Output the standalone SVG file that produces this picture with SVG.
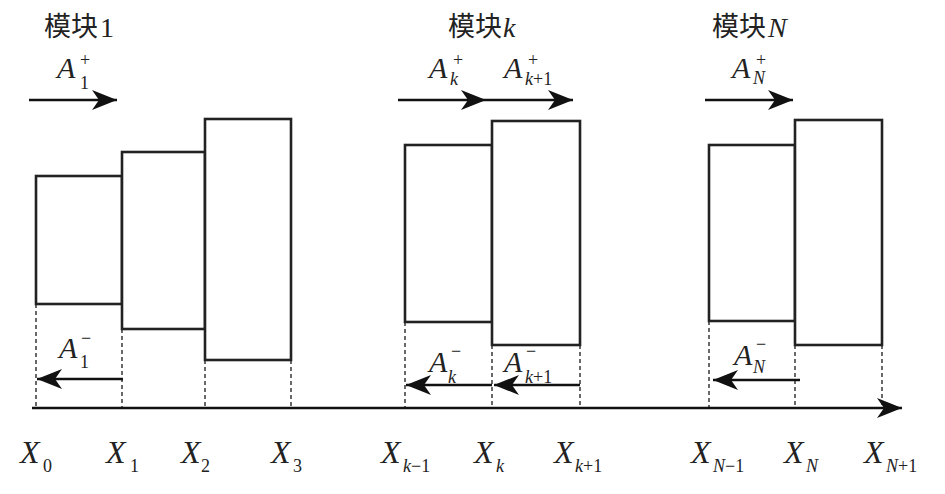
<svg xmlns="http://www.w3.org/2000/svg" width="945" height="494" viewBox="0 0 945 494">
<style>
.blk{fill:#fff;stroke:#222;stroke-width:2.6}
.dash{stroke:#444;stroke-width:1.6;stroke-dasharray:4 3;fill:none}
.arr{stroke:#111;stroke-width:2.6;fill:none;marker-end:url(#ah)}
.ax{stroke:#111;stroke-width:2.6;fill:none;marker-end:url(#ah)}
text{fill:#222}
.cn{font-size:28px}
.A{font-size:30px;font-style:italic}
.X{font-size:32px;font-style:italic}
.s{font-size:18px}
.si{font-size:18px;font-style:italic}
</style>
<defs>
<marker id="ah" markerUnits="userSpaceOnUse" markerWidth="26" markerHeight="22" refX="25" refY="10" orient="auto">
<path d="M0,0 L25,10 L0,20 L7,10 z" fill="#111"/>
</marker>
</defs>
<rect width="945" height="494" fill="#fff"/>

<g id="connectors">
<line class="dash" x1="36" y1="304" x2="36" y2="408"/>
<line class="dash" x1="122" y1="329" x2="122" y2="408"/>
<line class="dash" x1="205" y1="360" x2="205" y2="408"/>
<line class="dash" x1="291" y1="360" x2="291" y2="408"/>
<line class="dash" x1="405" y1="322" x2="405" y2="408"/>
<line class="dash" x1="492" y1="345" x2="492" y2="408"/>
<line class="dash" x1="580" y1="345" x2="580" y2="408"/>
<line class="dash" x1="709" y1="321" x2="709" y2="408"/>
<line class="dash" x1="795" y1="345" x2="795" y2="408"/>
<line class="dash" x1="882" y1="345" x2="882" y2="408"/>
<line class="ax" x1="32" y1="408" x2="902" y2="408"/>
<line class="arr" x1="29" y1="100" x2="117" y2="100"/>
<line class="arr" x1="398" y1="100" x2="486" y2="100"/>
<line class="arr" x1="486" y1="100" x2="573" y2="100"/>
<line class="arr" x1="705" y1="100" x2="793" y2="100"/>
<line class="arr" x1="123" y1="379" x2="37" y2="379"/>
<line class="arr" x1="492" y1="385" x2="406" y2="385"/>
<line class="arr" x1="580" y1="385" x2="494" y2="385"/>
<line class="arr" x1="800" y1="380" x2="713" y2="380"/>
</g>

<g id="block1"><rect class="blk" x="36" y="176" width="86" height="128"/></g>
<g id="block2"><rect class="blk" x="122" y="152" width="83" height="177"/></g>
<g id="block3"><rect class="blk" x="205" y="119" width="86" height="241"/></g>
<g id="blockk"><rect class="blk" x="405" y="145" width="87" height="177"/></g>
<g id="blockk1"><rect class="blk" x="492" y="121" width="88" height="224"/></g>
<g id="blockN"><rect class="blk" x="709" y="145" width="86" height="176"/></g>
<g id="blockN1"><rect class="blk" x="795" y="120" width="87" height="225"/></g>

<g id="titles">
<g font-family="Noto Sans CJK SC, sans-serif" font-size="27">
<text x="44" y="36">模块</text>
<text x="448" y="36">模块</text>
<text x="712" y="36">模块</text>
</g>
<g font-family="Liberation Serif, Times New Roman, serif">
<text class="cn" x="100" y="37">1</text>
<text class="cn" x="503" y="37" font-style="italic">k</text>
<text class="cn" x="768" y="37" font-style="italic">N</text>
</g>
</g>

<g id="labels-plus" font-family="Liberation Serif, Times New Roman, serif">
<text class="A" x="57" y="78">A</text><text class="s" x="80" y="66">+</text><text class="s" x="80" y="89">1</text>
<text class="A" x="429" y="78">A</text><text class="s" x="453" y="66">+</text><text class="si" x="450" y="85">k</text>
<text class="A" x="504" y="78">A</text><text class="s" x="528" y="66">+</text><text class="si" x="525" y="85">k<tspan font-style="normal">+1</tspan></text>
<text class="A" x="732" y="78">A</text><text class="s" x="756" y="66">+</text><text class="si" x="753" y="84">N</text>
</g>

<g id="labels-minus" font-family="Liberation Serif, Times New Roman, serif">
<text class="A" x="59" y="358">A</text><text class="s" x="81" y="344">−</text><text class="s" x="80" y="368">1</text>
<text class="A" x="429" y="372">A</text><text class="s" x="451" y="357">−</text><text class="si" x="448" y="383">k</text>
<text class="A" x="504" y="372">A</text><text class="s" x="526" y="357">−</text><text class="si" x="525" y="383">k<tspan font-style="normal">+1</tspan></text>
<text class="A" x="734" y="365">A</text><text class="s" x="756" y="350">−</text><text class="si" x="753" y="373">N</text>
</g>

<g id="axis-labels" font-family="Liberation Serif, Times New Roman, serif">
<text class="X" x="20" y="463">X</text><text class="s" x="43" y="472">0</text>
<text class="X" x="106" y="463">X</text><text class="s" x="130" y="472">1</text>
<text class="X" x="181" y="463">X</text><text class="s" x="201" y="472">2</text>
<text class="X" x="271" y="463">X</text><text class="s" x="293" y="472">3</text>
<text class="X" x="381" y="463">X</text><text class="si" x="403" y="472">k<tspan font-style="normal">−1</tspan></text>
<text class="X" x="474" y="463">X</text><text class="si" x="496" y="472">k</text>
<text class="X" x="554" y="463">X</text><text class="si" x="575" y="472">k<tspan font-style="normal">+1</tspan></text>
<text class="X" x="691" y="463">X</text><text class="si" x="713" y="472">N<tspan font-style="normal">−1</tspan></text>
<text class="X" x="784" y="463">X</text><text class="si" x="806" y="472">N</text>
<text class="X" x="864" y="463">X</text><text class="si" x="886" y="472">N<tspan font-style="normal">+1</tspan></text>
</g>
</svg>
